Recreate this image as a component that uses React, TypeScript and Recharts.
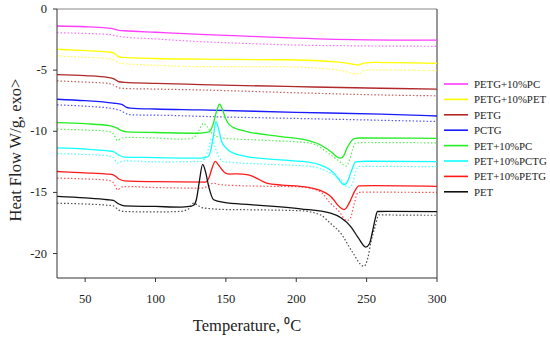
import React from 'react';
import { LineChart, Line, XAxis, YAxis, ReferenceLine, Legend } from 'recharts';

type P = [number, number];

const X_TICKS = [50, 100, 150, 200, 250, 300];
const Y_TICKS = [-20, -15, -10, -5, 0];

const PETG_PC_SOLID: P[] = [[30,-1.39],[50,-1.45],[65,-1.55],[70,-1.62],[74,-1.74],[78,-1.78],[100,-1.9],[132,-2.07],[160,-2.2],[200,-2.38],[250,-2.52],[300,-2.55]];
const PETG_PC_DOT: P[] = [[30,-1.94],[50,-2.0],[68,-2.1],[72,-2.2],[76,-2.27],[100,-2.45],[132,-2.67],[160,-2.8],[200,-2.95],[250,-3.02],[300,-3.05]];

const PETG_PET_SOLID: P[] = [[30,-3.3],[50,-3.4],[65,-3.5],[70,-3.58],[73,-3.85],[76,-3.95],[100,-4.05],[132,-4.1],[190,-4.15],[230,-4.35],[240,-4.5],[244,-4.58],[249,-4.4],[255,-4.37],[300,-4.45]];
const PETG_PET_DOT: P[] = [[30,-3.84],[50,-3.95],[66,-4.05],[71,-4.2],[75,-4.44],[100,-4.6],[132,-4.71],[190,-4.72],[230,-5.0],[244,-5.31],[249,-5.0],[255,-4.98],[300,-5.05]];

const PETG_SOLID: P[] = [[30,-5.36],[50,-5.45],[66,-5.6],[70,-5.69],[74,-5.95],[78,-6.0],[100,-6.08],[132,-6.18],[200,-6.35],[260,-6.48],[300,-6.55]];
const PETG_DOT: P[] = [[30,-5.88],[50,-5.98],[66,-6.08],[70,-6.2],[74,-6.45],[78,-6.5],[100,-6.55],[132,-6.62],[200,-6.85],[260,-7.03],[300,-7.1]];

const PCTG_SOLID: P[] = [[30,-7.38],[50,-7.5],[70,-7.7],[76,-7.8],[79,-8.02],[82,-8.1],[100,-8.18],[132,-8.25],[200,-8.45],[260,-8.6],[300,-8.75]];
const PCTG_DOT: P[] = [[30,-7.84],[50,-7.95],[70,-8.15],[75,-8.3],[80,-8.6],[84,-8.66],[110,-8.7],[132,-8.78],[200,-8.95],[260,-9.1],[300,-9.2]];

const PET_PC_SOLID: P[] = [[30,-9.29],[50,-9.38],[68,-9.56],[72,-9.7],[76,-9.95],[80,-10.05],[100,-10.1],[130,-10.16],[138,-10.05],[141,-9.4],[143.5,-8.3],[145.5,-7.79],[147.5,-8.2],[149.7,-8.93],[152,-9.4],[155,-9.67],[165,-10.02],[189,-10.43],[210,-10.8],[217,-11.1],[222,-11.45],[226,-11.8],[229,-12.1],[231.5,-12.2],[234,-11.95],[236,-11.38],[238.5,-10.9],[241,-10.6],[245,-10.55],[300,-10.58]];
const PET_PC_DOT: P[] = [[30,-9.83],[50,-9.9],[66,-10.0],[70,-10.2],[73,-10.76],[76,-10.55],[80,-10.5],[100,-10.55],[118,-10.65],[126,-10.56],[129,-10.3],[131,-9.9],[134,-9.34],[136.5,-9.6],[140,-10.16],[144,-10.45],[148,-10.56],[180,-10.75],[210,-10.97],[224,-11.9],[230,-12.4],[235.5,-12.85],[238,-12.3],[240,-11.5],[242,-10.97],[250,-10.92],[300,-10.95]];

const PET_PCTG_SOLID: P[] = [[30,-11.36],[50,-11.45],[66,-11.6],[70,-11.66],[74,-11.95],[78,-12.12],[100,-12.15],[132,-12.2],[137,-12.1],[139,-11.66],[141,-10.5],[143,-9.2],[145,-9.9],[147,-10.84],[150,-11.35],[153,-11.66],[164.6,-12.07],[189,-12.34],[210,-12.55],[217,-12.75],[222,-13.0],[226.6,-13.4],[230,-13.9],[234,-14.38],[236.5,-14.1],[238.7,-13.4],[240.5,-12.85],[242,-12.5],[250,-12.45],[300,-12.48]];
const PET_PCTG_DOT: P[] = [[30,-11.82],[50,-11.9],[66,-12.0],[70,-12.15],[73,-12.6],[76,-12.45],[80,-12.42],[100,-12.5],[132,-12.47],[135,-12.2],[138,-11.3],[140,-10.56],[142,-11.2],[145,-12.1],[148,-12.47],[180,-12.7],[210,-12.88],[224,-13.4],[232,-14.0],[237,-14.6],[239.5,-14.4],[242,-13.4],[244,-12.88],[250,-12.87],[300,-12.9]];

const PET_PETG_SOLID: P[] = [[30,-13.29],[50,-13.4],[66,-13.5],[70,-13.56],[74,-13.9],[78,-14.05],[100,-14.12],[135.4,-14.16],[138,-13.8],[140.5,-12.9],[142.5,-12.47],[145,-12.8],[149.7,-13.42],[153,-13.5],[158,-13.48],[166,-13.56],[172,-13.85],[179,-14.24],[190,-14.4],[203,-14.5],[217,-14.84],[223,-15.2],[226.6,-15.6],[230,-16.1],[234,-16.4],[236.5,-16.1],[238.7,-15.6],[241.5,-14.9],[244.6,-14.46],[255,-14.45],[300,-14.5]];
const PET_PETG_DOT: P[] = [[30,-13.83],[50,-13.9],[66,-14.0],[70,-14.2],[73,-14.79],[76,-14.55],[80,-14.52],[100,-14.6],[132,-14.65],[138,-14.45],[141,-14.24],[145,-14.35],[160,-14.45],[203,-14.55],[217,-14.93],[224,-15.85],[230,-16.5],[236,-17.3],[238.5,-17.1],[241,-16.0],[244,-15.0],[250,-14.98],[300,-15.0]];

const PET_SOLID: P[] = [[30,-15.33],[50,-15.45],[66,-15.6],[70,-15.66],[74,-15.95],[78,-16.1],[100,-16.15],[118,-16.2],[124,-16.15],[127,-16.05],[129,-15.6],[131,-14.2],[133.5,-12.7],[135.5,-13.3],[137.8,-14.52],[141.3,-15.6],[148.5,-15.82],[167.5,-16.0],[203,-16.34],[224.4,-16.7],[232,-17.1],[238.7,-17.8],[244,-18.7],[249.4,-19.47],[252,-19.2],[254,-18.3],[256,-17.2],[257.7,-16.56],[265,-16.55],[300,-16.57]];
const PET_DOT: P[] = [[30,-15.88],[50,-15.95],[66,-16.05],[70,-16.1],[74,-16.45],[78,-16.56],[100,-16.6],[118,-16.55],[124,-16.3],[127,-15.88],[130,-16.05],[133,-16.25],[150,-16.4],[167,-16.42],[203,-16.5],[217,-16.83],[224,-17.5],[232,-18.4],[240,-19.9],[248,-21.05],[251,-20.3],[253,-19.1],[256,-17.8],[258.8,-16.83],[270,-16.85],[300,-16.87]];

const SERIES_NAMES = ['PETG+10%PC', 'PETG+10%PET', 'PETG', 'PCTG', 'PET+10%PC', 'PET+10%PCTG', 'PET+10%PETG', 'PET'];
const SERIES_COLORS = ['#ff3cff', '#ffff00', '#b0282a', '#1a1aff', '#22ee22', '#11ffff', '#ff1a1a', '#111111'];
const SOLID = [PETG_PC_SOLID, PETG_PET_SOLID, PETG_SOLID, PCTG_SOLID, PET_PC_SOLID, PET_PCTG_SOLID, PET_PETG_SOLID, PET_SOLID];
const DOTTED = [PETG_PC_DOT, PETG_PET_DOT, PETG_DOT, PCTG_DOT, PET_PC_DOT, PET_PCTG_DOT, PET_PETG_DOT, PET_DOT];

const FONT = '"Liberation Serif", "Times New Roman", serif';

const toData = (pts: P[]) => pts.map(([t, v]) => ({ t, v }));

const LegendBox = () => (
  <svg width={112} height={128} style={{ display: 'block' }}>
    {SERIES_NAMES.map((n, i) => {
      const y = 8 + i * 15.4;
      return (
        <g key={n}>
          <line x1={6} x2={30} y1={y} y2={y} stroke={SERIES_COLORS[i]} strokeWidth={1.6} />
          <text x={36} y={y + 4} fontFamily={FONT} fontSize={10.8} fill="#222">{n}</text>
        </g>
      );
    })}
  </svg>
);

const XTick = (props: any) => {
  const { x, y, payload } = props;
  return (
    <text x={x} y={y + 10} textAnchor="middle" fontFamily={FONT} fontSize={12.5} fill="#222">
      {payload.value}
    </text>
  );
};

const YTick = (props: any) => {
  const { x, y, payload } = props;
  return (
    <text x={x} y={y + 4} textAnchor="end" fontFamily={FONT} fontSize={12.5} fill="#222">
      {payload.value}
    </text>
  );
};

const YLabel = () => (
  <text x={21} y={150} transform="rotate(-90 21 150)" textAnchor="middle" fontFamily={FONT} fontSize={16.5} fill="#222">
    Heat Flow W/g, exo&gt;
  </text>
);

const XLabel = () => (
  <text x={247} y={331} textAnchor="middle" fontFamily={FONT} fontSize={16.5} fill="#222">
    Temperature, ⁰C
  </text>
);

export default function App() {
  return (
    <div style={{ position: 'absolute', left: 0, top: 0, fontFamily: FONT }}>
      <LineChart width={550} height={340} margin={{ top: 9, right: 113, bottom: 32, left: 0 }} style={{ fontFamily: FONT }}>
        <XAxis
          dataKey="t"
          type="number"
          domain={[30, 300]}
          ticks={X_TICKS}
          allowDataOverflow
          height={30}
          tickSize={4}
          tickMargin={11}
          stroke="#333"
          tick={<XTick />}
          label={<XLabel />}
        />
        <YAxis
          type="number"
          domain={[-22, 0]}
          ticks={Y_TICKS}
          allowDataOverflow
          width={57}
          tickSize={4}
          tickMargin={6}
          stroke="#333"
          tick={<YTick />}
          label={<YLabel />}
        />
        <ReferenceLine y={0} stroke="#888" strokeWidth={1.2} />
        <ReferenceLine x={300} stroke="#333" strokeWidth={1} />
        {DOTTED.map((d, i) => (
          <Line
            key={'d' + i}
            data={toData(d)}
            dataKey="v"
            type="monotone"
            stroke={SERIES_COLORS[i]}
            strokeOpacity={0.75}
            strokeWidth={1.2}
            strokeDasharray="1.5 2"
            dot={false}
            activeDot={false}
            legendType="none"
            isAnimationActive={false}
          />
        ))}
        {SOLID.map((d, i) => (
          <Line
            key={'s' + i}
            data={toData(d)}
            dataKey="v"
            name={SERIES_NAMES[i]}
            type="monotone"
            stroke={SERIES_COLORS[i]}
            strokeWidth={1.3}
            dot={false}
            activeDot={false}
            isAnimationActive={false}
          />
        ))}
        <Legend
          layout="vertical"
          align="center"
          verticalAlign="middle"
          wrapperStyle={{ left: 438, top: 76, width: 112 }}
          content={() => <LegendBox />}
        />
      </LineChart>
    </div>
  );
}
